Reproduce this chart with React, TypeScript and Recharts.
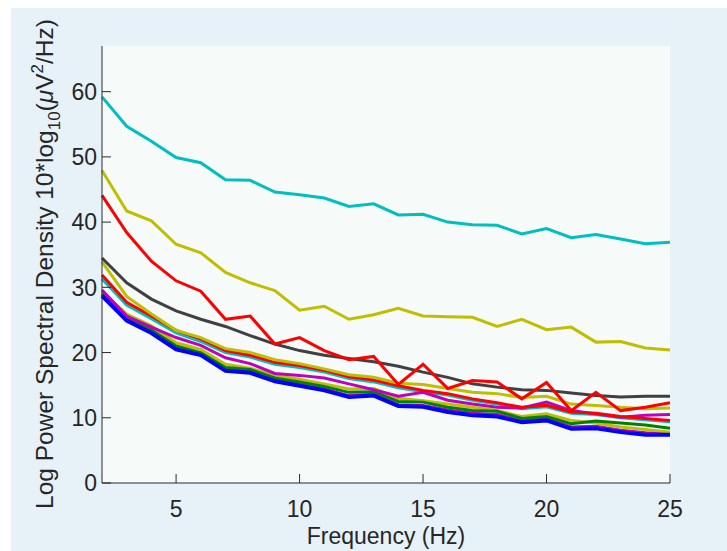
import React from "react";
import { LineChart, Line, XAxis, YAxis, CartesianGrid } from "recharts";

// frequency bins (Hz)
const freqs = [2, 3, 4, 5, 6, 7, 8, 9, 10, 11, 12, 13, 14, 15, 16, 17, 18, 19, 20, 21, 22, 23, 24, 25];

// log power per channel
const cyanTop = [59.2, 54.7, 52.4, 49.9, 49.1, 46.5, 46.4, 44.6, 44.2, 43.7, 42.4, 42.8, 41.1, 41.2, 40.0, 39.6, 39.5, 38.2, 39.0, 37.6, 38.1, 37.4, 36.7, 36.9];
const oliveTop = [47.9, 41.7, 40.2, 36.6, 35.3, 32.3, 30.7, 29.5, 26.5, 27.1, 25.1, 25.8, 26.8, 25.6, 25.5, 25.4, 24.0, 25.1, 23.5, 23.9, 21.6, 21.7, 20.7, 20.4];
const redTop = [44.1, 38.4, 34.0, 31.0, 29.4, 25.1, 25.6, 21.3, 22.3, 20.3, 18.9, 19.4, 15.1, 18.2, 14.5, 15.7, 15.5, 12.9, 15.4, 11.1, 13.9, 11.1, 11.6, 12.3];
const gray = [34.5, 30.7, 28.2, 26.4, 25.1, 24.0, 22.6, 21.3, 20.3, 19.6, 19.1, 18.6, 17.9, 17.0, 16.2, 15.2, 14.7, 14.3, 14.2, 13.8, 13.4, 13.2, 13.3, 13.3];
const oliveMid = [33.9, 28.6, 25.9, 23.4, 22.3, 20.6, 20.0, 18.9, 18.3, 17.5, 16.6, 16.2, 15.3, 15.1, 14.5, 13.9, 13.7, 13.1, 13.3, 12.1, 11.9, 11.6, 11.4, 11.5];
const redMid = [31.9, 27.7, 25.6, 23.4, 22.1, 20.3, 19.6, 18.5, 18.0, 17.3, 16.3, 15.8, 14.9, 14.2, 13.7, 12.9, 12.3, 11.6, 11.9, 10.9, 10.7, 10.2, 9.9, 9.6];
const cyanLow = [31.3, 27.3, 25.2, 23.0, 21.7, 20.0, 19.3, 18.2, 17.7, 17.0, 16.0, 15.5, 14.6, 14.0, 13.5, 12.7, 12.1, 11.4, 11.7, 10.7, 10.5, 10.0, 9.7, 9.4];
const magenta = [29.6, 25.6, 23.9, 22.3, 21.1, 19.2, 18.3, 16.8, 16.5, 16.1, 15.2, 14.3, 13.3, 13.9, 12.7, 12.1, 11.6, 11.5, 12.4, 11.1, 10.6, 10.1, 10.4, 10.5];
const oliveLow = [29.3, 25.9, 24.1, 21.5, 20.5, 18.2, 17.6, 16.5, 15.9, 15.2, 14.4, 14.5, 13.0, 12.6, 12.1, 11.6, 11.1, 10.2, 10.6, 9.6, 9.2, 8.6, 8.2, 7.8];
const magentaLow = [28.9, 25.0, 23.2, 20.7, 19.8, 17.4, 17.1, 15.8, 15.1, 14.4, 13.4, 13.6, 12.0, 11.9, 11.2, 10.7, 10.5, 9.5, 9.9, 8.6, 8.7, 8.1, 7.7, 7.6];
const green = [29.0, 25.3, 23.5, 21.0, 20.0, 17.7, 17.4, 16.1, 15.5, 14.8, 13.9, 14.0, 12.5, 12.4, 11.6, 11.1, 11.0, 9.9, 10.2, 9.1, 9.5, 9.2, 8.9, 8.4];
const blue = [28.7, 24.9, 23.0, 20.5, 19.6, 17.2, 16.9, 15.6, 14.9, 14.2, 13.2, 13.4, 11.8, 11.7, 10.9, 10.4, 10.2, 9.3, 9.6, 8.3, 8.4, 7.8, 7.4, 7.4];

const xTicks = [5, 10, 15, 20, 25];
const yTicks = [0, 10, 20, 30, 40, 50, 60];

// drawing order: first is underneath
const series = [
  { key: "cyanLow", values: cyanLow, color: "#00BFBF", w: 3 },
  { key: "magentaLow", values: magentaLow, color: "#BF00BF", w: 3 },
  { key: "oliveLow", values: oliveLow, color: "#BFBF00", w: 3 },
  { key: "green", values: green, color: "#008000", w: 3 },
  { key: "blue", values: blue, color: "#0000FF", w: 4 },
  { key: "magenta", values: magenta, color: "#BF00BF", w: 3 },
  { key: "redMid", values: redMid, color: "#FF0000", w: 3 },
  { key: "oliveMid", values: oliveMid, color: "#BFBF00", w: 3 },
  { key: "gray", values: gray, color: "#404040", w: 3 },
  { key: "redTop", values: redTop, color: "#FF0000", w: 3 },
  { key: "oliveTop", values: oliveTop, color: "#BFBF00", w: 3 },
  { key: "cyanTop", values: cyanTop, color: "#00BFBF", w: 3 },
];

const data = freqs.map((f, i) => {
  const row: Record<string, number> = { f };
  series.forEach((s) => (row[s.key] = s.values[i]));
  return row;
});

const W = 716;
const H = 543;
const PLOT_LEFT = 91;
const PLOT_BOTTOM = 475;
const AXIS = "#2b2b2b";
const TEXT = "#262626";
const FONT = "'Liberation Sans', Arial, Helvetica, sans-serif";

const XTick = (props: any) => {
  const { x, payload } = props;
  return (
    <g>
      <line x1={x} x2={x} y1={PLOT_BOTTOM} y2={PLOT_BOTTOM - 9} stroke={AXIS} strokeWidth={1} />
      <text x={x} y={509} textAnchor="middle" fontSize={23} fill={TEXT} fontFamily={FONT}>
        {payload.value}
      </text>
    </g>
  );
};

const YTick = (props: any) => {
  const { y, payload } = props;
  return (
    <g>
      <line x1={PLOT_LEFT} x2={PLOT_LEFT + 9} y1={y} y2={y} stroke={AXIS} strokeWidth={1} />
      <text x={PLOT_LEFT - 5} y={y} dy="0.36em" textAnchor="end" fontSize={23} fill={TEXT} fontFamily={FONT}>
        {payload.value}
      </text>
    </g>
  );
};

const XTitle = () => (
  <text x={375} y={536} textAnchor="middle" fontSize={23} fill={TEXT} fontFamily={FONT}>
    Frequency (Hz)
  </text>
);

const YTitle = () => (
  <text
    x={42}
    y={256}
    transform="rotate(-90 42 256)"
    textAnchor="middle"
    fontSize={24.5}
    fill={TEXT}
    fontFamily={FONT}
  >
    Log Power Spectral Density 10*log
    <tspan dy={7} fontSize={17}>10</tspan>
    <tspan dy={-7}>(</tspan>
    <tspan fontStyle="italic">μ</tspan>
    <tspan>V</tspan>
    <tspan dy={-10} fontSize={17}>2</tspan>
    <tspan dy={10}>/Hz)</tspan>
  </text>
);

export default function App() {
  return (
    <div style={{ position: "absolute", left: 0, top: 0, width: 727, height: 551, background: "#ffffff" }}>
      <div style={{ position: "absolute", left: 11, top: 8, width: W, height: H, background: "#E6F1F8" }}>
        <LineChart width={W} height={H} data={data} margin={{ top: 38, right: 57, left: 0, bottom: 0 }}>
          <CartesianGrid horizontal={false} vertical={false} fill="#F6FAF8" />
          <XAxis
            dataKey="f"
            type="number"
            domain={[2, 25]}
            ticks={xTicks}
            height={68}
            axisLine={{ stroke: AXIS, strokeWidth: 1 }}
            tickLine={false}
            tick={<XTick />}
            label={<XTitle />}
          />
          <YAxis
            type="number"
            domain={[0, 67]}
            ticks={yTicks}
            width={91}
            allowDataOverflow
            axisLine={{ stroke: AXIS, strokeWidth: 1 }}
            tickLine={false}
            tick={<YTick />}
            label={<YTitle />}
          />
          {series.map((s) => (
            <Line
              key={s.key}
              dataKey={s.key}
              type="linear"
              stroke={s.color}
              strokeWidth={s.w}
              dot={false}
              activeDot={false}
              isAnimationActive={false}
            />
          ))}
        </LineChart>
      </div>
    </div>
  );
}
